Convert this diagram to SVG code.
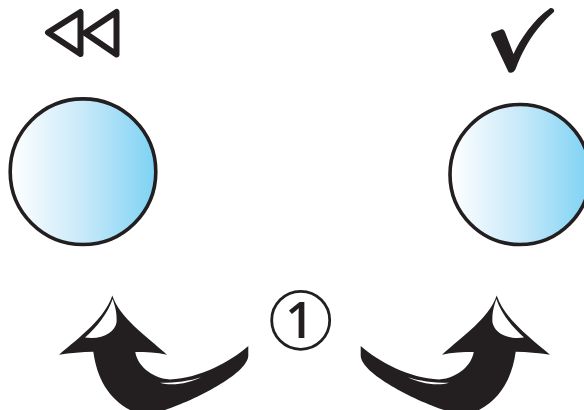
<svg xmlns="http://www.w3.org/2000/svg" width="584" height="410" viewBox="0 0 584 410">
  <style>
    .ink { fill: #231f20; }
    .ball { fill: url(#sky); stroke: #231f20; stroke-width: 3.6; }
    .tri { fill: none; stroke: #231f20; stroke-width: 6; stroke-linejoin: round; }
    .hl { fill: #fff; }
  </style>
  <defs>
    <linearGradient id="sky" x1="0" y1="0" x2="1" y2="0">
      <stop offset="0" stop-color="#ffffff"/>
      <stop offset="0.5" stop-color="#c8e9f9"/>
      <stop offset="1" stop-color="#7dd2f4"/>
    </linearGradient>
    <g id="arrowShape">
      <path class="ink" d="M112.3,295.5 C120,318 145,335 167,354.7 C157,352.5 146,352 135.3,352 C137,364 150,378 170,379.5 C200,378 230,362 248.3,346 L248.3,356 C247,374 195,400 165,410 L130,410 C108,398 97,378 93.3,351.7 C82,352 70,353 59,354.7 C80,337 105,318 112.3,295.5 Z"/>
      <path class="hl" d="M112.6,299 C115,306 117,312 116.6,322 C115,332 103,340 85,337.6 C97,327 108,313 112.6,299 Z"/>
      <path class="hl" d="M160,382.7 C175,382.8 190,381 201,377.2 C190,383 172,386.5 160,382.7 Z"/>
    </g>
  </defs>

  <g id="rewind-icon">
    <polygon class="tri" points="48,32.5 80.5,12 80.5,54"/>
    <polygon class="tri" points="85,33 116.5,12 116.5,54.5"/>
  </g>
  <g id="check-icon">
    <path class="ink" d="M491.7,33 L501.7,29.3 C503,29 504,30 505,32 L513.5,54 C520,40 533,20 550,8.3 C552,7.5 555,9.5 554,11.7 C545,20 528,36 516,68 C514,73.5 509,74 508,71 L491.5,36 C491,35 491,34 491.7,33 Z"/>
  </g>
  <g id="circle-left">
    <circle class="ball" cx="83" cy="171.7" r="72.8"/>
  </g>
  <g id="circle-right">
    <circle class="ball" cx="520" cy="174.5" r="70"/>
  </g>
  <g id="step-badge">
    <circle cx="300.7" cy="320.3" r="29" fill="none" stroke="#231f20" stroke-width="2.8"/>
    <text x="299.5" y="338.3" text-anchor="middle" font-family="'Open Sans', 'Liberation Sans', sans-serif" font-weight="600" font-size="50" fill="#231f20">1</text>
  </g>
  <g id="connectors">
    <use href="#arrowShape"/>
    <use href="#arrowShape" transform="matrix(-1 0 0 1 609 0)"/>
  </g>
</svg>
